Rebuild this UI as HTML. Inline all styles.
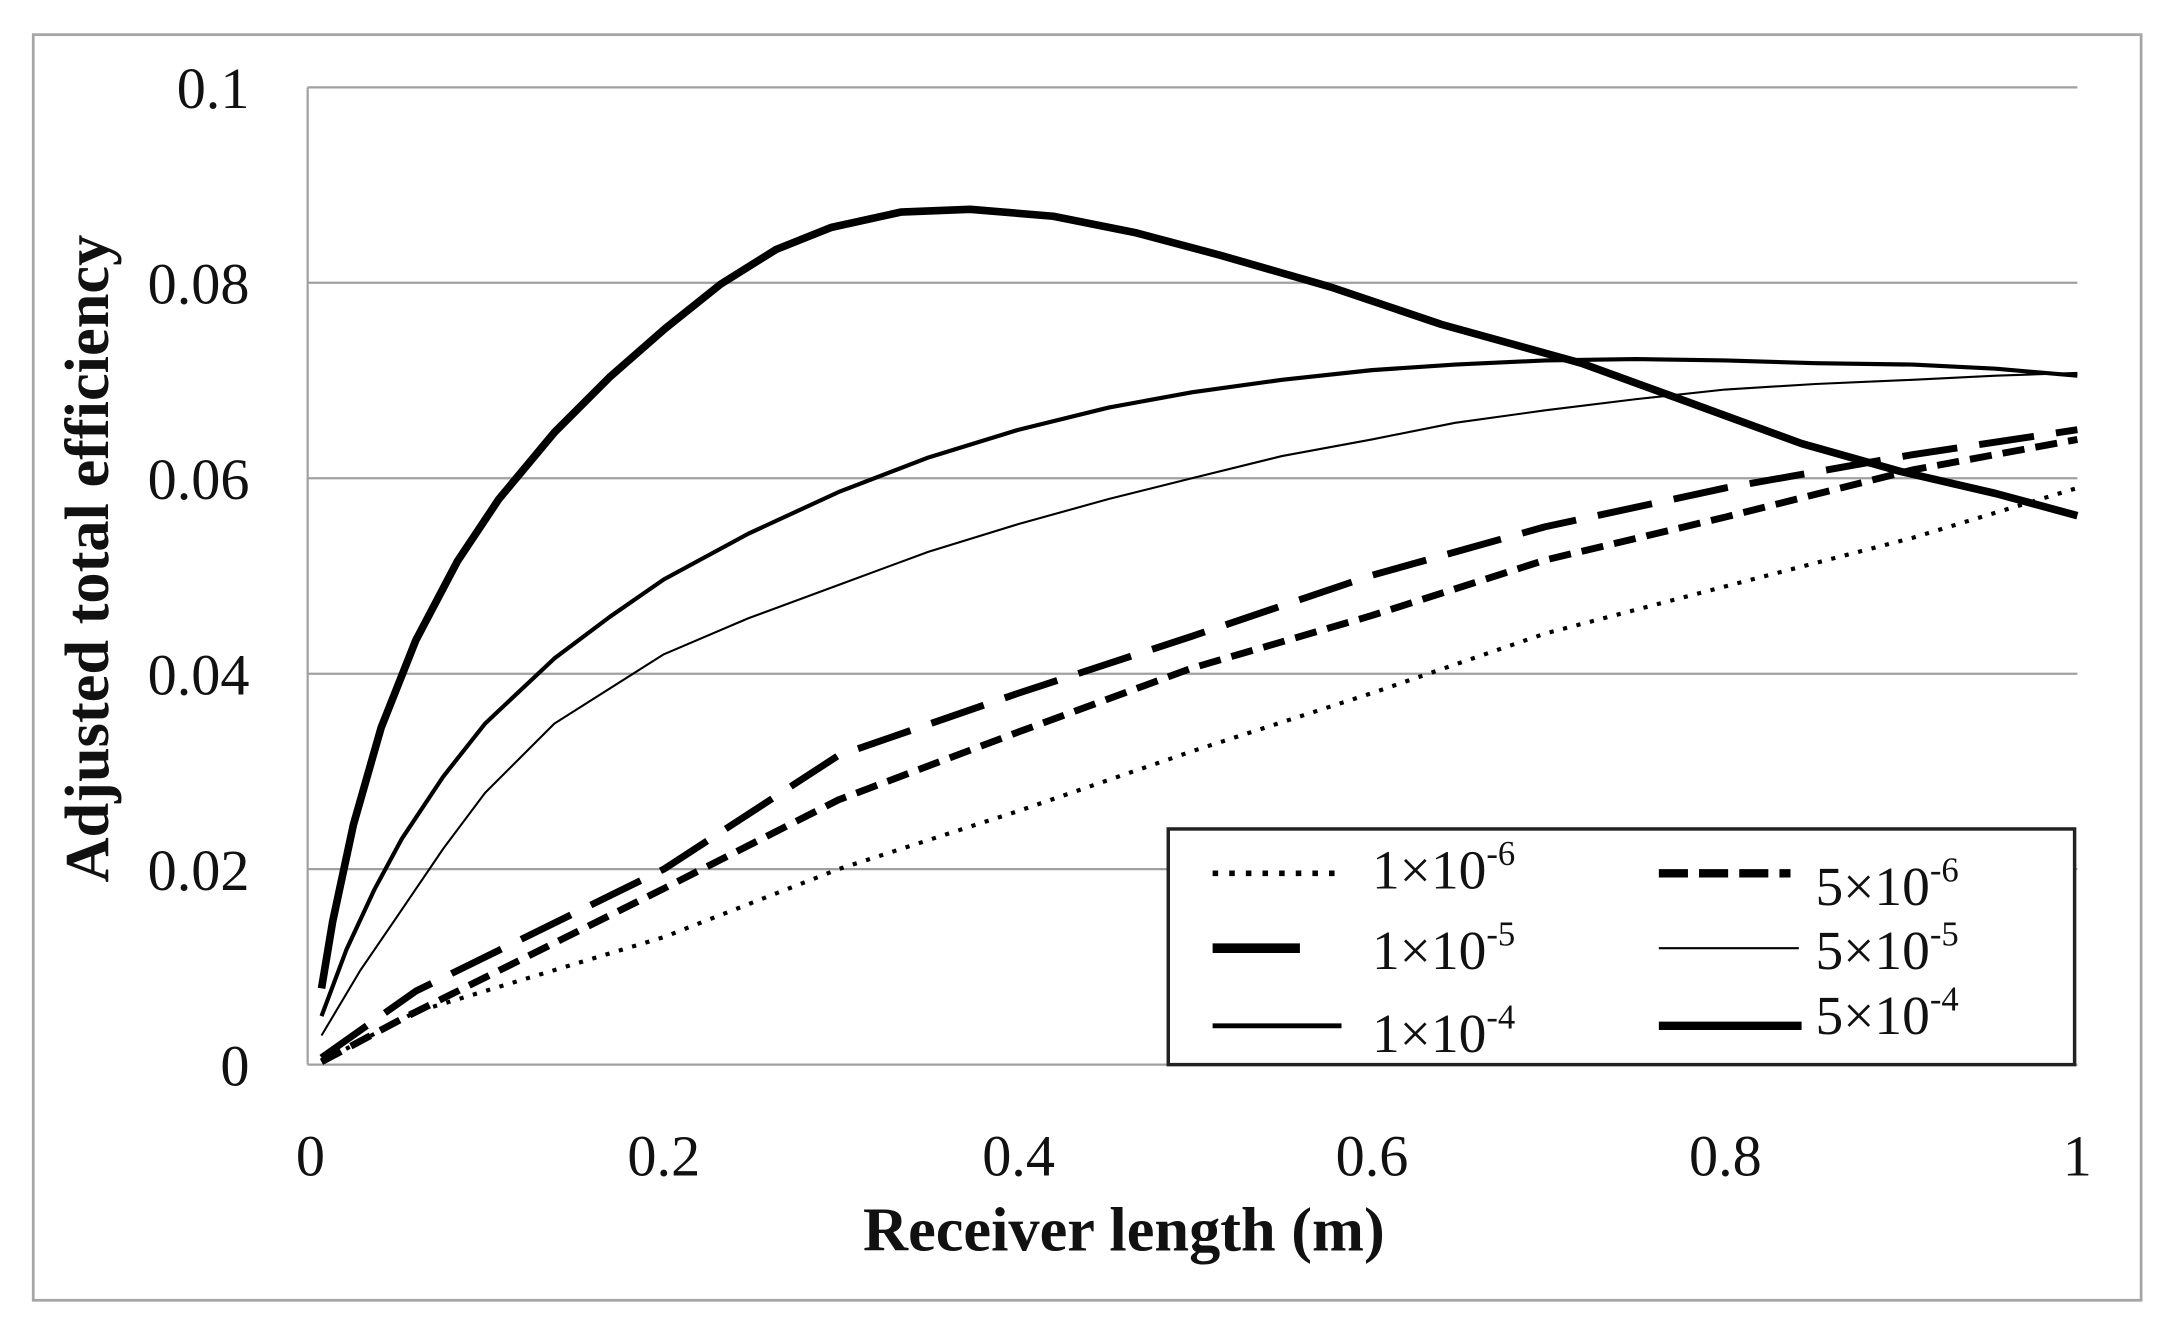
<!DOCTYPE html>
<html><head><meta charset="utf-8"><style>html,body{margin:0;padding:0;background:#fff}svg{display:block}</style></head>
<body>
<svg width="2173" height="1328" viewBox="0 0 1568 958" preserveAspectRatio="none" xmlns="http://www.w3.org/2000/svg" font-family="Liberation Serif, serif">
<rect x="0" y="0" width="1568" height="958" fill="#fff"/>
<rect x="24" y="25" width="1521" height="913" fill="none" stroke="#a6a6a6" stroke-width="2"/>
<g stroke="#a0a0a0" stroke-width="1.6">
<line x1="222" y1="63" x2="1499" y2="63"/>
<line x1="222" y1="204" x2="1499" y2="204"/>
<line x1="222" y1="345" x2="1499" y2="345"/>
<line x1="222" y1="486" x2="1499" y2="486"/>
<line x1="222" y1="627" x2="1499" y2="627"/>
<line x1="222" y1="768" x2="1499" y2="768"/>
<line x1="222" y1="63" x2="222" y2="768"/>
</g>
<g font-size="42" fill="#111" text-anchor="end">
<text x="180" y="78">0.1</text>
<text x="180" y="219">0.08</text>
<text x="180" y="360">0.06</text>
<text x="180" y="501">0.04</text>
<text x="180" y="642">0.02</text>
<text x="180" y="783">0</text>
</g>
<g font-size="42" fill="#111" text-anchor="middle">
<text x="224" y="848">0</text>
<text x="479" y="848">0.2</text>
<text x="735" y="848">0.4</text>
<text x="990" y="848">0.6</text>
<text x="1245" y="848">0.8</text>
<text x="1499" y="848">1</text>
</g>
<text x="811" y="902" font-size="45" font-weight="bold" text-anchor="middle" fill="#111">Receiver length (m)</text>
<text transform="translate(78,403) rotate(-90)" font-size="45" font-weight="bold" text-anchor="middle" fill="#111">Adjusted total efficiency</text>
<g fill="none" stroke="#000" stroke-linecap="butt" stroke-linejoin="round">
<polyline stroke-width="3" stroke-dasharray="3,7" points="232,766 300,730 479,676 605,627 735,585 860,542 990,500 1115,457 1245,423 1380,388 1499,352"/>
<polyline stroke-width="5" stroke-dasharray="16,8" points="232,766 290,735 479,641 605,577 735,528 860,482 990,444 1115,404 1245,373 1380,339 1499,317"/>
<polyline stroke-width="5" stroke-dasharray="40,16" points="232,763 300,715 479,627 605,545 735,500 860,459 990,415 1115,380 1245,352 1380,328 1499,310"/>
<polyline stroke-width="1.5" points="232,747 260,700 286,662 320,612 350,572 400,522 479,472 540,446 605,422 670,398 735,378 800,360 860,345 925,329 990,317 1050,305 1115,296 1180,288 1245,281 1310,277 1380,274 1440,271 1499,269"/>
<polyline stroke-width="3" points="232,733 250,685 270,642 290,605 320,560 350,522 400,475 440,445 479,418 540,385 605,355 670,330 735,310 800,294 860,283 925,274 990,267 1050,263 1115,260 1180,259 1245,260 1310,262 1380,263 1440,266 1499,271"/>
<polyline stroke-width="5.5" points="232,713 240,665 255,595 275,525 300,462 330,405 360,360 400,312 440,272 480,237 520,205 560,180 600,164 650,153 700,151 760,156 820,168 880,184 960,207 1040,234 1141,262 1218,290 1300,320 1371,340 1440,356 1499,372"/>
</g>
<rect x="843" y="598" width="654" height="170" fill="#fff" stroke="#222" stroke-width="2.5"/>
<g fill="none" stroke="#000">
<line x1="875" y1="630" x2="968" y2="630" stroke-width="4" stroke-dasharray="4,8"/>
<line x1="1197" y1="630" x2="1292" y2="630" stroke-width="6" stroke-dasharray="21,8"/>
<line x1="875" y1="684" x2="938" y2="684" stroke-width="7"/>
<line x1="1197" y1="684" x2="1298" y2="684" stroke-width="1.5"/>
<line x1="875" y1="740" x2="968" y2="740" stroke-width="3.5"/>
<line x1="1197" y1="740" x2="1300" y2="740" stroke-width="6"/>
</g>
<g font-size="40" fill="#111">
<text x="990" y="641">1×10<tspan font-size="25" dy="-17">-6</tspan></text>
<text x="1310" y="653">5×10<tspan font-size="25" dy="-17">-6</tspan></text>
<text x="990" y="699">1×10<tspan font-size="25" dy="-17">-5</tspan></text>
<text x="1310" y="699">5×10<tspan font-size="25" dy="-17">-5</tspan></text>
<text x="990" y="759">1×10<tspan font-size="25" dy="-17">-4</tspan></text>
<text x="1310" y="746">5×10<tspan font-size="25" dy="-17">-4</tspan></text>
</g>
</svg>
</body></html>
